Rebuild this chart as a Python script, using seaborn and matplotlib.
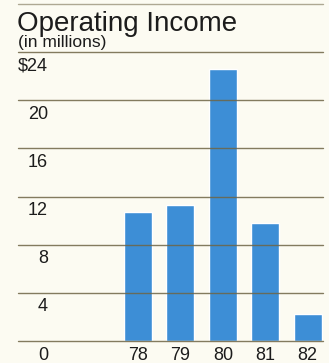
import matplotlib
matplotlib.use("Agg")
import matplotlib.pyplot as plt
import matplotlib.transforms as mtransforms
import seaborn as sns
import pandas as pd

years = ["78", "79", "80", "81", "82"]
income = [10.75, 11.3, 22.6, 9.8, 2.25]
ytick_values = [0, 4, 8, 12, 16, 20, 24]
ytick_labels = ["0", "4", "8", "12", "16", "20", "$24"]
title = "Operating Income"
subtitle = "(in millions)"

sns.set_theme(style="white")
plt.rcParams["font.family"] = ["Liberation Sans", "DejaVu Sans"]

bg = "#fcfbf2"
bar_color = "#3d8ed6"
line_color = "#6e6545"
text_color = "#1c1c1c"

fig = plt.figure(figsize=(3.29, 3.63), dpi=100, facecolor=bg)
W, H = 329, 363
ax = fig.add_axes([18 / W, (H - 341) / H, (323 - 18) / W, (341 - 4) / H])
ax.set_facecolor(bg)

df = pd.DataFrame({"year": years, "income": income})
sns.barplot(data=df, x="year", y="income", order=years, color=bar_color,
            saturation=1, width=0.66, ax=ax, zorder=2)

ax.set_xlim(-2.83, 4.36)
ax.set_ylim(0, 28)
for s in ax.spines.values():
    s.set_visible(False)
ax.set_xticks([])
ax.set_yticks([])
ax.set_xlabel("")
ax.set_ylabel("")

for v in ytick_values + [28]:
    ax.axhline(v, color=line_color, lw=1.0, alpha=0.85 if v < 28 else 0.55,
               zorder=3, clip_on=False)

blend = mtransforms.blended_transform_factory(ax.transAxes, ax.transData)
lab_trans = mtransforms.offset_copy(blend, fig=fig, y=-18.5, units="dots")
for v, lab in zip(ytick_values, ytick_labels):
    ax.text(30 / 305, v, lab, transform=lab_trans, ha="right", va="baseline",
            fontsize=13, color=text_color, clip_on=False)

x_trans = mtransforms.offset_copy(ax.transData, fig=fig, y=-18.5, units="dots")
for i, yr in enumerate(years):
    ax.text(i, 0, yr, transform=x_trans, ha="center", va="baseline",
            fontsize=13, color=text_color, clip_on=False)

fig.text(17 / W, (H - 31) / H, title, ha="left", va="baseline",
         fontsize=20, color=text_color)
fig.text(18 / W, (H - 46.5) / H, subtitle, ha="left", va="baseline",
         fontsize=12.5, color=text_color)

fig.savefig("out.png", dpi=100, facecolor=bg)
